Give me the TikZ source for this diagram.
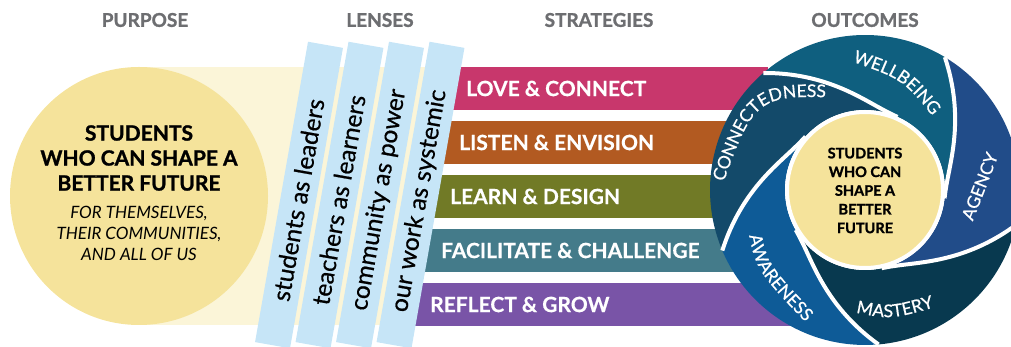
\documentclass[tikz,border=0pt]{standalone}
\usepackage{fontspec}
\setmainfont{Lato}[BoldFeatures={FakeBold=0.5}]
\newfontfamily\latomed{Lato}[FakeBold=0.6]
\newfontfamily\latoheavy{Lato}[UprightFont=*, BoldFeatures={FakeBold=1.2}]
\usetikzlibrary{decorations.text,calc}
\definecolor{hdrgray}{HTML}{6D6E71}
\definecolor{bandyellow}{HTML}{FBF5D8}
\definecolor{circyellow}{HTML}{F5E39B}
\definecolor{lensblue}{HTML}{C6E5F7}
\definecolor{cLove}{HTML}{C8376C}
\definecolor{cListen}{HTML}{B25A21}
\definecolor{cLearn}{HTML}{717A26}
\definecolor{cFacil}{HTML}{447B8A}
\definecolor{cReflect}{HTML}{7954A7}
\definecolor{cWell}{HTML}{0F5F7F}
\definecolor{cAgency}{HTML}{214C89}
\definecolor{cMastery}{HTML}{08394F}
\definecolor{cAware}{HTML}{0E5B97}
\definecolor{cConn}{HTML}{134A6A}
\newcommand\lblfont{\latomed\fontsize{17.5}{17.5}\selectfont}
\tikzset{
  hdr/.style={font=\latoheavy\fontsize{19}{19}\selectfont\bfseries, text=hdrgray},
  lensbox/.style={fill=lensblue, minimum width=305pt, minimum height=35.5pt, inner sep=0pt, rotate=80},
  lenstext/.style={font=\latomed\fontsize{24.5}{24.5}\selectfont, text=black, rotate=80, inner sep=0pt},
  strattext/.style={font=\fontsize{21}{21}\selectfont\bfseries, text=white, anchor=west, inner sep=0pt},
  seps/.style={white, line width=4pt},
  outlbl/.style={decorate, decoration={text along path, text={#1}, text align=center, text color=white}}
}
\begin{document}
\begin{tikzpicture}[x=1pt,y=1pt]
\useasboundingbox (0,0) rectangle (1011,347);
\begin{scope}
\clip (0,0) rectangle (1011,347);
% band behind purpose circle
\begin{scope}
  \clip (0,0) -- (393.7,0) -- (454.9,347) -- (0,347) -- cycle;
  \fill[bandyellow] (139,22) rectangle (460,280);
\end{scope}
% purpose circle
\fill[circyellow] (139,151) circle[radius=129];
\node[align=center, font=\latoheavy\fontsize{21}{25}\selectfont\bfseries] (ptitle) at (139,189) {STUDENTS\\WHO CAN SHAPE A\\BETTER FUTURE};
\node[align=center, font=\fontsize{17}{21}\selectfont\itshape] (psub) at (139,114) {FOR THEMSELVES,\\THEIR COMMUNITIES,\\AND ALL OF US};
% strategy bars
\begin{scope}
  \clip (393.7,0) -- (454.9,347) -- (1011,347) -- (1011,0) -- cycle;
  \fill[cLove]    (380,237) rectangle (768,280);
  \fill[cListen]  (380,183) rectangle (780,226);
  \fill[cLearn]   (380,129) rectangle (780,172);
  \fill[cFacil]   (380,75)  rectangle (780,118);
  \fill[cReflect] (380,21)  rectangle (800,64);
\end{scope}
\node[strattext] (s1) at (466,258.5) {LOVE \& CONNECT};
\node[strattext] (s2) at (459,204.5) {LISTEN \& ENVISION};
\node[strattext] (s3) at (450,150.5) {LEARN \& DESIGN};
\node[strattext] (s4) at (441,96.5) {FACILITATE \& CHALLENGE};
\node[strattext] (s5) at (430,42.5) {REFLECT \& GROW};
% lenses
\node[lensbox] (L0) at (299,152) {};
\node[lensbox] (L1) at (339.5,152) {};
\node[lensbox] (L2) at (380,152) {};
\node[lensbox] (L3) at (420.5,152) {};
\node[lenstext] (t0) at ($(L0.center)+(260:5)$) {students as leaders};
\node[lenstext] (t1) at ($(L1.center)+(260:5)$) {teachers as learners};
\node[lenstext] (t2) at ($(L2.center)+(260:5)$) {community as power};
\node[lenstext] (t3) at ($(L3.center)+(260:6)$) {our work as systemic};
% outcomes wheel
\begin{scope}[shift={(865,157)}]
  \foreach \k/\col in {0/cWell,1/cAgency,2/cMastery,3/cAware,4/cConn}{
    \pgfmathsetmacro\a{131-72*\k}
    \fill[\col] plot[domain=1:0,samples=40] ({\a-65*\x}:{80+75*(1-\x)^2})
      arc[start angle=\a, end angle=\a-72, radius=155]
      -- plot[domain=0:1,samples=40] ({\a-72-65*\x}:{80+75*(1-\x)^2})
      arc[start angle=\a-137, end angle=\a-65, radius=80] -- cycle;
  }
  \foreach \k in {0,...,4}{
    \pgfmathsetmacro\a{131-72*\k}
    \draw[seps] plot[domain=0:1,samples=40] ({\a-65*\x}:{80+75*(1-\x)^2});
  }
  \filldraw[fill=circyellow, draw=white, line width=4pt] (0,0) circle[radius=78];
\end{scope}
\node[align=center, font=\latoheavy\fontsize{14.5}{18.7}\selectfont\bfseries] (otitle) at (865,156.5) {STUDENTS\\WHO CAN\\SHAPE A\\BETTER\\FUTURE};
\path[outlbl={|\lblfont|WELLBEING}] (844,288) .. controls (903,268) .. (938,224);
\path[outlbl={|\lblfont|CONNECTEDNESS}] (717,146) .. controls (754.5,252.5) .. (846,249);
\path[outlbl={|\lblfont|AGENCY}] (967,111) .. controls (984.5,155.5) .. (1004,206);
\path[outlbl={|\lblfont|MASTERY}] (848,36) .. controls (891,27) .. (942,42);
\path[outlbl={|\lblfont|AWARENESS}] (747,122) .. controls (756,76.5) .. (813,17);
% headers
\node[hdr] (h1) at (145,327) {PURPOSE};
\node[hdr] (h2) at (380,327) {LENSES};
\node[hdr] (h3) at (599,327) {STRATEGIES};
\node[hdr] (h4) at (865,327) {OUTCOMES};
\end{scope}
\end{tikzpicture}
\end{document}
